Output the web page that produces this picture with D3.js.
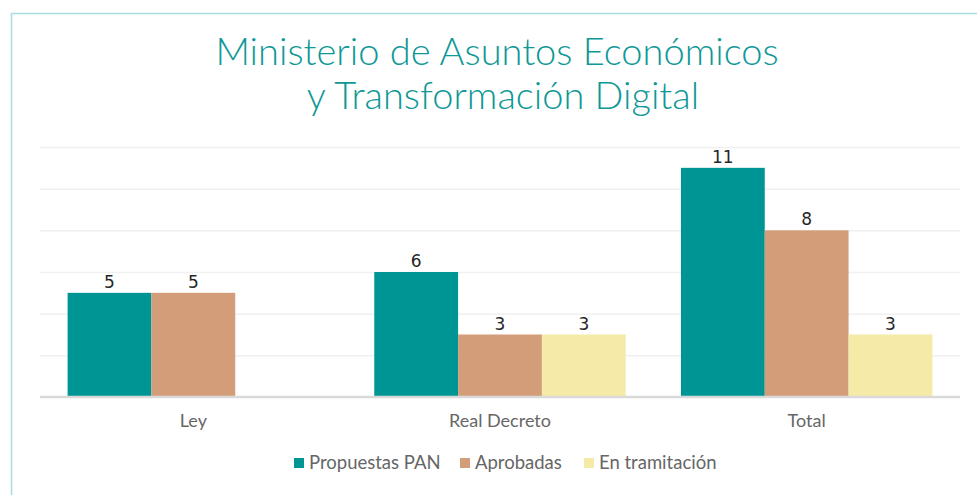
<!DOCTYPE html>
<html>
<head>
<meta charset="utf-8">
<script src="https://cdn.jsdelivr.net/npm/d3@7"></script>
<style>
  body { margin: 0; background: #fff; }
  svg { display: block; }
</style>
</head>
<body>
<svg id="chart" width="977" height="495"></svg>
<script>
// data
var categories = ["Ley", "Real Decreto", "Total"];
var seriesNames = ["Propuestas PAN", "Aprobadas", "En tramitación"];
var propuestas = [5, 6, 11];
var aprobadas = [5, 3, 8];
var enTramitacion = [null, 3, 3];
var yTicks = [0, 2, 4, 6, 8, 10, 12];
var titleLines = ["Ministerio de Asuntos Económicos", "y Transformación Digital"];

var colors = ["#009595", "#d49d79", "#f5eaa8"];
var allSeries = [propuestas, aprobadas, enTramitacion];

var svg = d3.select("#chart");

// outer border (only top + left visible)
svg.append("path")
  .attr("d", "M11.5,1000 L11.5,13.5 L1000,13.5")
  .attr("fill", "none")
  .attr("stroke", "#a9dcdc")
  .attr("stroke-width", 1.5);

// title
var titleX = [497, 503];
svg.append("g").selectAll("text")
  .data(titleLines)
  .enter().append("text")
  .attr("x", function(d, i) { return titleX[i]; })
  .attr("y", function(d, i) { return 65 + i * 44; })
  .attr("text-anchor", "middle")
  .attr("font-family", "Lato, 'Open Sans', sans-serif")
  .attr("font-weight", 300)
  .attr("font-size", "38px")
  .attr("fill", "#0e9896")
  .text(function(d) { return d; });

var x0 = d3.scaleBand().domain(categories).range([40, 960]).paddingInner(0.18).paddingOuter(0.09);
var x1 = d3.scaleBand().domain(d3.range(seriesNames.length)).range([0, x0.bandwidth()]);
var y = d3.scaleLinear().domain([0, 12]).range([397, 147]);

// gridlines
var yAxis = d3.axisLeft(y).tickValues(yTicks.slice(1)).tickSize(-920).tickFormat("");
var ga = svg.append("g").attr("transform", "translate(40,0)").call(yAxis);
ga.select(".domain").remove();
ga.selectAll(".tick line").attr("stroke", "#f0f0f0").attr("stroke-width", 1.5);

// bars
var groups = svg.append("g").selectAll("g")
  .data(categories)
  .enter().append("g")
  .attr("transform", function(d) { return "translate(" + x0(d) + ",0)"; });

function cells(d, ci) {
  return allSeries.map(function(s, si) { return { si: si, v: s[ci] }; })
    .filter(function(o) { return o.v != null; });
}

groups.selectAll("rect")
  .data(cells)
  .enter().append("rect")
  .attr("x", function(d) { return x1(d.si); })
  .attr("width", x1.bandwidth())
  .attr("y", function(d) { return y(d.v); })
  .attr("height", function(d) { return y(0) - y(d.v); })
  .attr("fill", function(d) { return colors[d.si]; });

groups.selectAll("text.val")
  .data(cells)
  .enter().append("text")
  .attr("class", "val")
  .attr("x", function(d) { return x1(d.si) + x1.bandwidth() / 2; })
  .attr("y", function(d) { return y(d.v) - 5; })
  .attr("text-anchor", "middle")
  .attr("font-family", "'DejaVu Sans', sans-serif")
  .attr("font-size", "17px")
  .attr("fill", "#262626")
  .text(function(d) { return d.v; });

// x axis baseline + labels
var xAxis = d3.axisBottom(x0).tickSize(0).tickPadding(17);
var gx = svg.append("g").attr("transform", "translate(0,397)").call(xAxis);
gx.select(".domain").remove();
svg.append("line")
  .attr("x1", 40).attr("x2", 960).attr("y1", 397).attr("y2", 397)
  .attr("stroke", "#d9d9d9").attr("stroke-width", 2.5);
gx.selectAll("text")
  .attr("font-family", "Lato, 'Open Sans', sans-serif")
  .attr("font-size", "18px")
  .attr("fill", "#666");

// legend
var legendX = [294, 460, 584];
var lg = svg.append("g").selectAll("g")
  .data(seriesNames)
  .enter().append("g")
  .attr("transform", function(d, i) { return "translate(" + legendX[i] + ",458)"; });
lg.append("rect").attr("width", 10).attr("height", 10).attr("fill", function(d, i) { return colors[i]; });
lg.append("text")
  .attr("x", 15).attr("y", 11)
  .attr("font-family", "Lato, 'Open Sans', sans-serif")
  .attr("font-size", "18.5px")
  .attr("fill", "#666")
  .text(function(d) { return d; });
</script>
</body>
</html>
